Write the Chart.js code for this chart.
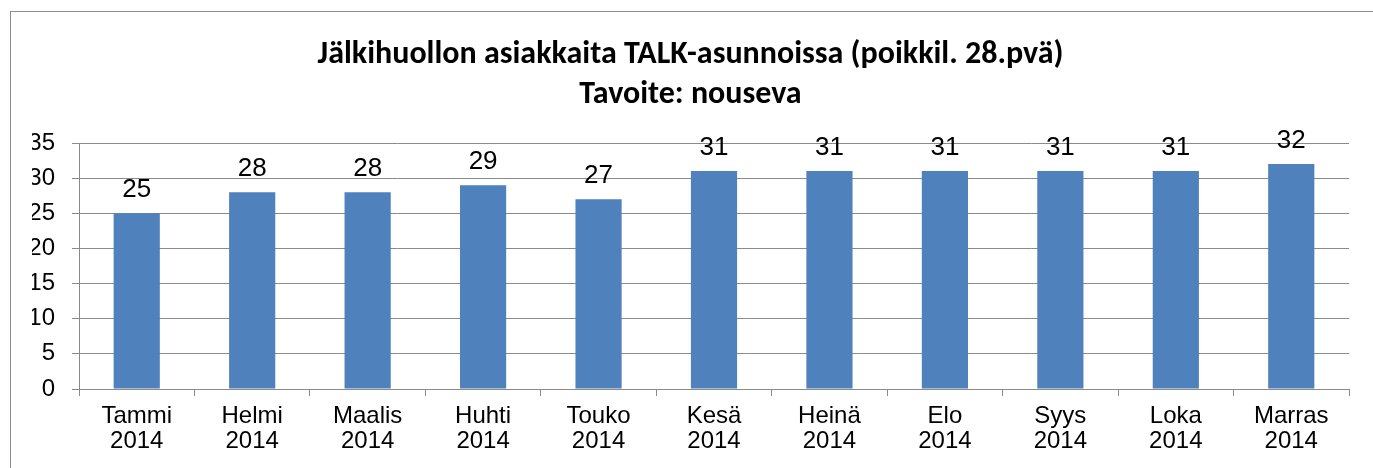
<!DOCTYPE html>
<html>
<head>
<meta charset="utf-8">
<script src="https://cdn.jsdelivr.net/npm/chart.js@4"></script>
<style>
  html, body { margin: 0; padding: 0; background: #fff; }
  .wrap { position: relative; width: 1373px; height: 468px; overflow: hidden; }
  .frame { position: absolute; left: 10px; top: 11px; width: 1400px; height: 500px;
           border-top: 1px solid #8c8c8c; border-left: 1px solid #8c8c8c; }
  canvas { position: absolute; left: 0; top: 0; }
</style>
</head>
<body>
<div class="wrap">
  <div class="frame"></div>
  <canvas id="chart" width="1373" height="468"></canvas>
</div>
<script>
const MONTHS = ['Tammi', 'Helmi', 'Maalis', 'Huhti', 'Touko', 'Kesä', 'Heinä', 'Elo', 'Syys', 'Loka', 'Marras'];
const YEAR = '2014';
const VALUES = [25, 28, 28, 29, 27, 31, 31, 31, 31, 31, 32];
const TITLE_LINES = ['Jälkihuollon asiakkaita TALK-asunnoissa (poikkil. 28.pvä)', 'Tavoite: nouseva'];

const FONT = '"Liberation Sans", Arial, sans-serif';
const GRID = '#8a8a8a';

// value labels above the bars
const barLabels = {
  id: 'barLabels',
  afterDatasetsDraw(chart) {
    const ctx = chart.ctx;
    const meta = chart.getDatasetMeta(0);
    ctx.save();
    ctx.font = '26px ' + FONT;
    ctx.fillStyle = '#000';
    ctx.textAlign = 'center';
    ctx.textBaseline = 'alphabetic';
    meta.data.forEach((bar, i) => {
      ctx.fillText(String(VALUES[i]), bar.x, bar.y - 16);
    });
    ctx.restore();
  }
};

new Chart(document.getElementById('chart'), {
  type: 'bar',
  data: {
    labels: MONTHS.map((m) => [m, YEAR]),
    datasets: [{
      data: VALUES,
      backgroundColor: '#4F81BD',
      borderWidth: 0,
      categoryPercentage: 1,
      barPercentage: 0.4
    }]
  },
  options: {
    responsive: false,
    animation: false,
    layout: { padding: { left: 32, right: 24, top: 0, bottom: 0 } },
    plugins: {
      legend: { display: false },
      tooltip: { enabled: false },
      title: {
        display: true,
        text: TITLE_LINES,
        color: '#000',
        font: { family: 'Carlito, "Open Sans", sans-serif', size: 32, weight: 'bold', lineHeight: 40 / 32 },
        padding: { top: 35, bottom: 28 }
      }
    },
    scales: {
      x: {
        grid: { offset: true, drawOnChartArea: false, drawTicks: true, tickLength: 7, color: GRID },
        border: { color: GRID, width: 1 },
        ticks: { color: '#000', font: { family: FONT, size: 24, lineHeight: 25 / 24 }, padding: 8, maxRotation: 0, autoSkip: false },
        afterFit: (scale) => { scale.height = 79; }
      },
      y: {
        min: 0,
        max: 35,
        grid: { color: GRID, tickLength: 7, drawTicks: true },
        border: { color: GRID, width: 1 },
        ticks: { stepSize: 5, color: '#000', font: { family: FONT, size: 24 }, padding: 17 },
        afterFit: (scale) => { scale.width = 47; }
      }
    }
  },
  plugins: [barLabels]
});
</script>
</body>
</html>
